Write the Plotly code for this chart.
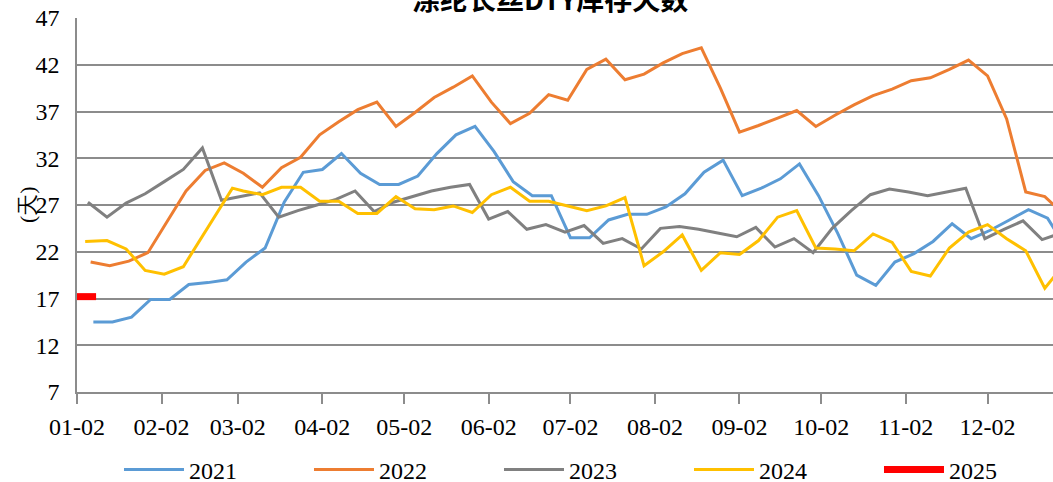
import pandas as pd
import plotly.graph_objects as go

# 涤纶长丝DTY库存天数, weekly readings (days)
v2021 = [14.5, 14.5, 15.0, 16.9, 16.9, 18.5, 18.7, 19.0, 20.9, 22.4, 27.3, 30.5, 30.8,
         32.5, 30.4, 29.2, 29.2, 30.1, 32.5, 34.5, 35.4, 32.7, 29.5, 28.0, 28.0, 23.5,
         23.5, 25.4, 26.0, 26.0, 26.8, 28.2, 30.5, 31.8, 28.0, 28.8, 29.8, 31.4, 28.0,
         24.0, 19.5, 18.4, 20.9, 21.8, 23.1, 25.0, 23.4, 24.3, 25.4, 26.5, 25.6, 22.3]
v2022 = [20.9, 20.5, 21.0, 21.9, 25.2, 28.5, 30.7, 31.5, 30.4, 28.9, 31.0, 32.1, 34.5,
         35.9, 37.2, 38.0, 35.4, 36.9, 38.5, 39.6, 40.8, 38.0, 35.7, 36.8, 38.8, 38.2,
         41.5, 42.6, 40.4, 41.0, 42.2, 43.2, 43.8, 39.5, 34.8, 35.5, 36.3, 37.1, 35.4,
         36.6, 37.7, 38.7, 39.4, 40.3, 40.6, 41.5, 42.5, 40.8, 36.2, 28.4, 27.9, 26.0]
v2023 = [27.3, 25.7, 27.2, 28.2, 29.5, 30.8, 33.1, 27.5, 27.9, 28.3, 25.7, 26.4, 27.0,
         27.6, 28.5, 26.3, 27.3, 27.9, 28.5, 28.9, 29.2, 25.5, 26.3, 24.4, 24.9, 24.1,
         24.8, 22.9, 23.4, 22.3, 24.5, 24.7, 24.4, 24.0, 23.6, 24.6, 22.5, 23.4, 21.9,
         24.5, 26.4, 28.1, 28.7, 28.4, 28.0, 28.4, 28.8, 23.4, 24.4, 25.3, 23.3, 24.0]
v2024 = [23.1, 23.2, 22.3, 20.0, 19.6, 20.4, 28.8,
         28.5, 28.1, 28.9, 28.9, 27.4, 27.4, 26.1, 26.1, 27.9, 26.6, 26.5, 26.9, 26.2,
         28.1, 28.9, 27.4, 27.4, 26.9, 26.4, 26.9, 27.8, 20.5, 22.0, 23.8, 20.0, 21.9,
         21.7, 23.2, 25.7, 26.4, 22.4, 22.3, 22.1, 23.9, 23.0, 19.9, 19.4, 22.4, 24.1,
         24.9, 23.4, 22.1, 18.1, 20.6]
v2025 = [17.2, 17.2]

d2021 = pd.date_range("2021-01-08", periods=len(v2021), freq="7D")
d2022 = pd.date_range("2022-01-07", periods=len(v2022), freq="7D")
d2023 = pd.date_range("2023-01-06", periods=len(v2023), freq="7D")
d2024 = pd.to_datetime(["2024-01-05", "2024-01-13", "2024-01-20", "2024-01-27",
                        "2024-02-03", "2024-02-10", "2024-02-28"]).append(
    pd.date_range("2024-03-03", "2024-12-29", freq="7D"))
d2025 = pd.to_datetime(["2025-01-02", "2025-01-09"])

month_ticks = ["01-02", "02-02", "03-02", "04-02", "05-02", "06-02",
               "07-02", "08-02", "09-02", "10-02", "11-02", "12-02"]
y_ticks = [7, 12, 17, 22, 27, 32, 37, 42, 47]


def to_base(dates):
    # put every year on one calendar, by day of year
    return pd.Timestamp("2021-01-01") + pd.to_timedelta(dates.dayofyear - 1, unit="D")


series = [
    ("2021", d2021, v2021, "#5B9BD5", 3),
    ("2022", d2022, v2022, "#ED7D31", 3),
    ("2023", d2023, v2023, "#808080", 3),
    ("2024", d2024, v2024, "#FFC000", 3),
    ("2025", d2025, v2025, "#FF0000", 7),
]

fig = go.Figure()
for name, d, v, color, w in series:
    fig.add_trace(go.Scatter(x=to_base(d), y=v, name=name, mode="lines",
                             line=dict(color=color, width=w)))

serif = "Liberation Serif"
grid = "#8C8C8C"

fig.update_layout(
    width=1053, height=482,
    margin=dict(l=77, r=0, t=18, b=90, autoexpand=False),
    paper_bgcolor="white", plot_bgcolor="white",
    font=dict(family=serif, size=24, color="black"),
    showlegend=True,
    legend=dict(orientation="h", xref="container", x=0.113, xanchor="left",
                y=-0.208, yanchor="middle",
                entrywidth=115, entrywidthmode="pixels", bgcolor="rgba(0,0,0,0)",
                font=dict(family=serif, size=24), itemwidth=60),
    annotations=[
        dict(text="<b>涤纶长丝DTY库存天数</b>", x=0.485, xref="paper",
             y=1, yref="paper", yanchor="bottom", yshift=-2,
             showarrow=False, font=dict(family="Noto Sans CJK SC", size=28)),
        dict(text="(天)", textangle=-90, x=0, xref="paper", xanchor="center",
             xshift=-50, y=0.5, yref="paper", showarrow=False,
             font=dict(family=serif, size=22)),
    ],
)
fig.update_xaxes(
    range=[pd.Timestamp("2021-01-02"), pd.Timestamp("2021-12-26")],
    tickvals=pd.to_datetime(["2021-" + t for t in month_ticks]),
    ticktext=month_ticks, automargin=False,
    showgrid=False, showline=True, linecolor=grid, linewidth=1.5,
    ticks="outside", ticklen=10, tickcolor=grid, tickwidth=1.5,
    ticklabelstandoff=2,
    tickfont=dict(family=serif, size=24),
)
fig.update_yaxes(
    range=[7, 47], tickvals=y_ticks, automargin=False,
    showgrid=True, gridcolor=grid, gridwidth=1.5,
    showline=True, linecolor=grid, linewidth=1.5,
    zeroline=False, ticks="", ticklabelstandoff=11, ticklabeloverflow="allow",
    tickfont=dict(family=serif, size=24),
)

# page body margin would push the chart 8px down and right
fig.write_html("out.html", config={"displayModeBar": False},
               post_script="document.body.style.margin = '0';")
